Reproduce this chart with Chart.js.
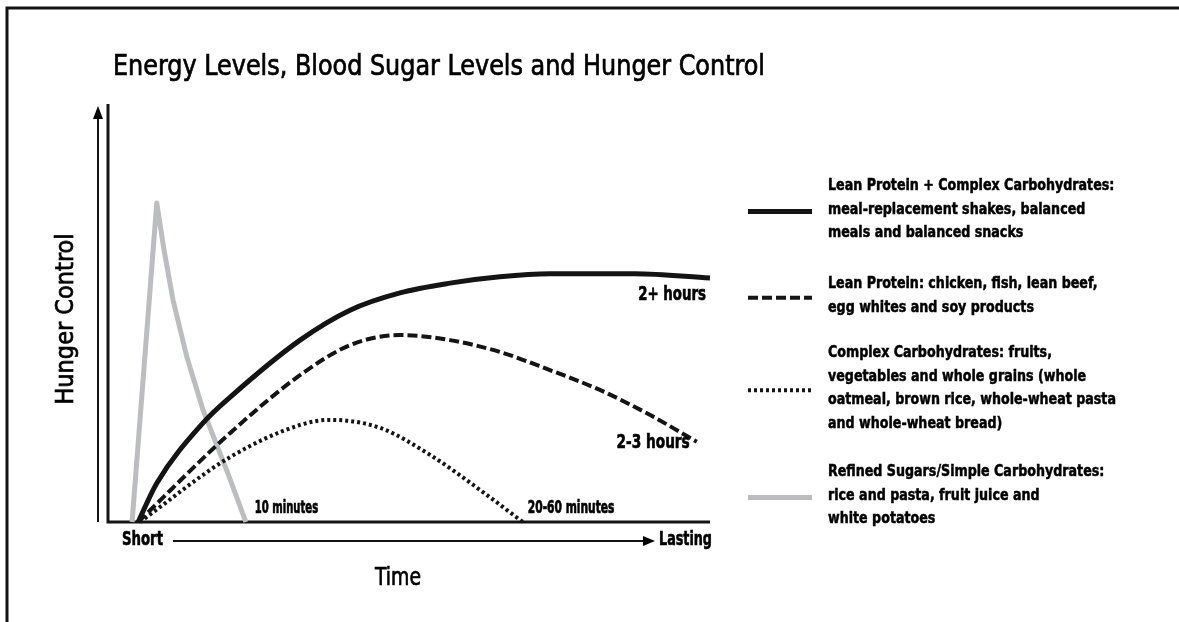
<!DOCTYPE html>
<html>
<head>
<meta charset="utf-8">
<title>Energy Levels, Blood Sugar Levels and Hunger Control</title>
<script src="https://cdn.jsdelivr.net/npm/chart.js@4.4.1/dist/chart.umd.min.js"></script>
<style>
    html, body { margin: 0; padding: 0; background: #fff; }
    #wrap { width: 1179px; height: 622px; }
</style>
</head>
<body>
<div id="wrap"><canvas id="energyChart" width="1179" height="622"></canvas></div>
<script>
// ---- data (time axis 0..100 = short -> lasting, hunger control 0..100) ----
const sugarX   = [4.0, 8.1, 9.3, 10.8, 13.1, 15.8, 19.9, 22.9];
const sugarY   = [0, 75.6, 64.5, 52.6, 39.1, 26.5, 11.6, 0];

const comboX   = [5.0, 8.1, 15.8, 20.3, 31.9, 40.2, 48.5, 56.8, 65.1, 73.4, 87.5, 100];
const comboY   = [0, 9.2, 23.5, 29.6, 43.1, 50.2, 54.3, 56.6, 58.1, 58.8, 58.8, 57.8];

const proteinX = [5.0, 20.3, 31.9, 40.2, 48.5, 56.8, 65.1, 73.4, 81.7, 90.0, 97.8];
const proteinY = [0, 21.1, 34.8, 41.9, 44.3, 43.1, 40.3, 36.0, 31.3, 25.4, 19.0];

const carbX    = [5.3, 20.3, 31.9, 36.9, 45.2, 53.5, 61.8, 68.9];
const carbY    = [0, 15.4, 23.0, 24.2, 22.3, 15.9, 7.6, 0];

const endLabels = ['2+ hours', '2-3 hours', '20-60 minutes', '10 minutes'];

const legendText = [
    ['Lean Protein + Complex Carbohydrates:', 'meal-replacement shakes, balanced', 'meals and balanced snacks'],
    ['Lean Protein: chicken, fish, lean beef,', 'egg whites and soy products'],
    ['Complex Carbohydrates: fruits,', 'vegetables and whole grains (whole', 'oatmeal, brown rice, whole-wheat pasta', 'and whole-wheat bread)'],
    ['Refined Sugars/Simple Carbohydrates:', 'rice and pasta, fruit juice and', 'white potatoes'],
];

const titleText = 'Energy Levels, Blood Sugar Levels and Hunger Control';
const xAxisText = ['Short', 'Lasting', 'Time'];
const yAxisText = 'Hunger Control';

const pts = (xs, ys) => xs.map((x, i) => ({ x, y: ys[i] }));

const NARROW = '"Liberation Sans Narrow", "DejaVu Sans Condensed", "Arial Narrow", sans-serif';
const INK = '#141414';
const GREY = '#bcbdc0';

// series styles (shared by the lines and the legend samples)
const styles = [
    { color: INK,  width: 5, dash: [] },
    { color: INK,  width: 4, dash: [10, 4] },
    { color: INK,  width: 4, dash: [3, 3] },
    { color: GREY, width: 5, dash: [] },
];

// draw text squeezed horizontally, either to a target width or by a factor
const fitText = (ctx, text, x, y, target, factor, heavy) => {
    const sx = factor || Math.min(1, target / ctx.measureText(text).width);
    ctx.save();
    ctx.translate(x, y);
    ctx.scale(sx, 1);
    ctx.fillText(text, 0, 0);
    if (heavy) {
        // the printed labels use a heavier condensed face
        ctx.lineWidth = heavy;
        ctx.strokeStyle = ctx.fillStyle;
        ctx.strokeText(text, 0, 0);
    }
    ctx.restore();
};

const arrowHead = (ctx, x, y, dir, len, half) => {
    ctx.beginPath();
    if (dir === 'up') {
        ctx.moveTo(x, y); ctx.lineTo(x - half, y + len); ctx.lineTo(x + half, y + len);
    } else {
        ctx.moveTo(x, y); ctx.lineTo(x - len, y - half); ctx.lineTo(x - len, y + half);
    }
    ctx.closePath();
    ctx.fill();
};

const decor = {
    id: 'decor',
    beforeDatasetsDraw(chart) {
        const { ctx, chartArea: a } = chart;
        ctx.save();
        ctx.strokeStyle = INK;
        ctx.lineWidth = 3;
        ctx.beginPath();
        ctx.moveTo(a.left, a.top + 4);
        ctx.lineTo(a.left, a.bottom);
        ctx.lineTo(a.right, a.bottom);
        ctx.stroke();
        ctx.restore();
    },
    afterDraw(chart) {
        const { ctx, chartArea: a } = chart;
        const xs = chart.scales.x, ys = chart.scales.y;
        ctx.save();

        // page frame (top and left rules)
        ctx.strokeStyle = INK;
        ctx.lineWidth = 3;
        ctx.beginPath();
        ctx.moveTo(7, 622);
        ctx.lineTo(7, 8);
        ctx.lineTo(1179, 8);
        ctx.stroke();

        // title
        ctx.fillStyle = '#000';
        ctx.font = `29px ${NARROW}`;
        ctx.textBaseline = 'alphabetic';
        ctx.textAlign = 'left';
        fitText(ctx, titleText, 113, 75, 652, 0, 0.7);

        // y arrow beside the axis
        ctx.lineWidth = 2;
        ctx.beginPath();
        ctx.moveTo(a.left - 10, a.bottom);
        ctx.lineTo(a.left - 10, a.top + 14);
        ctx.stroke();
        arrowHead(ctx, a.left - 10, a.top + 6, 'up', 13, 5);

        // y title
        ctx.save();
        ctx.translate(66, 319);
        ctx.rotate(-Math.PI / 2);
        ctx.textAlign = 'center';
        ctx.textBaseline = 'middle';
        ctx.font = `25px ${NARROW}`;
        fitText(ctx, yAxisText, 0, 0, 173, 0, 0.7);
        ctx.restore();

        // Short ---> Lasting
        ctx.font = `bold 19px ${NARROW}`;
        ctx.textBaseline = 'middle';
        ctx.textAlign = 'left';
        fitText(ctx, xAxisText[0], a.left + 14, a.bottom + 18, 41, 0, 0.6);
        fitText(ctx, xAxisText[1], 659, a.bottom + 18, 53, 0, 0.6);
        ctx.lineWidth = 2;
        ctx.beginPath();
        ctx.moveTo(173, a.bottom + 19);
        ctx.lineTo(645, a.bottom + 19);
        ctx.stroke();
        arrowHead(ctx, 655, a.bottom + 19, 'right', 12, 5);

        ctx.font = `25px ${NARROW}`;
        ctx.textAlign = 'center';
        fitText(ctx, xAxisText[2], 398, a.bottom + 56, 46, 0, 0.7);

        // end-of-curve labels
        ctx.font = `bold 19px ${NARROW}`;
        const last = (xsArr, ysArr) => ({
            x: xs.getPixelForValue(xsArr[xsArr.length - 1]),
            y: ys.getPixelForValue(ysArr[ysArr.length - 1]),
        });
        const c = last(comboX, comboY);
        ctx.textAlign = 'right';
        fitText(ctx, endLabels[0], c.x - 4, c.y + 17, 0, 0.78, 0.6);
        const p = last(proteinX, proteinY);
        fitText(ctx, endLabels[1], p.x - 7, p.y + 1, 0, 0.8, 0.6);
        ctx.textAlign = 'left';
        ctx.font = `bold 18px ${NARROW}`;
        const d = last(carbX, carbY);
        fitText(ctx, endLabels[2], d.x + 5, a.bottom - 14, 0, 0.66, 0.7);
        const s = last(sugarX, sugarY);
        fitText(ctx, endLabels[3], s.x + 9, a.bottom - 14, 0, 0.62, 0.7);

        // legend
        const blockTop = [186, 284, 353, 472];
        const lineH = 23.5;
        ctx.font = `bold 16px ${NARROW}`;
        ctx.textAlign = 'left';
        ctx.textBaseline = 'middle';
        legendText.forEach((lines, i) => {
            const top = blockTop[i];
            lines.forEach((t, j) => fitText(ctx, t, 828, top + j * lineH, 0, 0.88, 0.5));
            const mid = top + (lines.length - 1) * lineH / 2 + 2;
            const st = styles[i];
            ctx.strokeStyle = st.color;
            ctx.lineWidth = st.width;
            ctx.setLineDash(st.dash);
            ctx.beginPath();
            ctx.moveTo(748, mid);
            ctx.lineTo(812, mid);
            ctx.stroke();
            ctx.setLineDash([]);
        });

        ctx.restore();
    },
};

const series = [
    { label: legendText[0][0], data: pts(comboX, comboY), st: styles[0], tension: 0.4 },
    { label: legendText[1][0], data: pts(proteinX, proteinY), st: styles[1], tension: 0.4 },
    { label: legendText[2][0], data: pts(carbX, carbY), st: styles[2], tension: 0.4 },
    { label: legendText[3][0], data: pts(sugarX, sugarY), st: styles[3], tension: 0 },
];

new Chart(document.getElementById('energyChart'), {
    type: 'line',
    data: {
        datasets: series.map(s => ({
            label: s.label,
            data: s.data,
            borderColor: s.st.color,
            borderWidth: s.st.width,
            borderDash: s.st.dash,
            cubicInterpolationMode: s.tension ? 'monotone' : 'default',
            tension: s.tension,
            pointRadius: 0,
            fill: false,
            clip: false,
            borderCapStyle: 'butt',
            borderJoinStyle: 'round',
        })),
    },
    options: {
        responsive: false,
        devicePixelRatio: 1,
        animation: false,
        layout: { padding: { left: 108, right: 469, top: 100, bottom: 100 } },
        scales: {
            x: { type: 'linear', min: 0, max: 100, display: false },
            y: { min: 0, max: 100, display: false },
        },
        plugins: {
            legend: { display: false },
            tooltip: { enabled: false },
        },
    },
    plugins: [decor],
});
</script>
</body>
</html>
